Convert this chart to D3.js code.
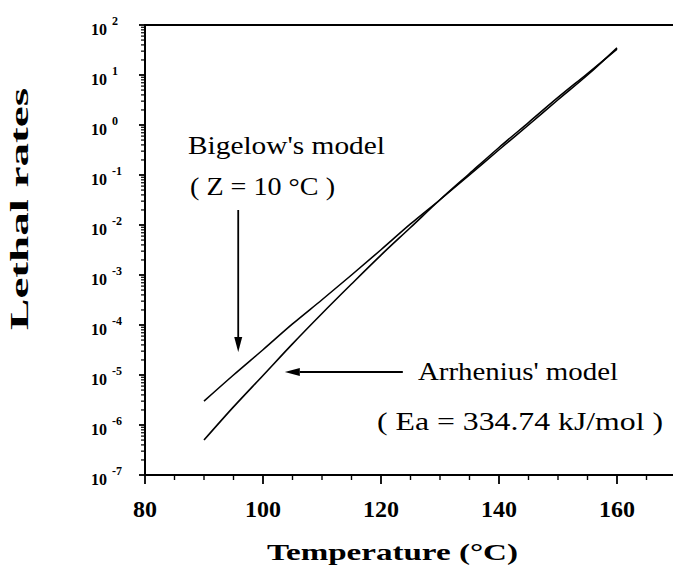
<!DOCTYPE html>
<html>
<head>
<meta charset="utf-8">
<script src="https://cdn.jsdelivr.net/npm/d3@7"></script>
<style>
  body { margin: 0; background: #fff; }
  svg { display: block; }
</style>
</head>
<body>
<div id="chart"></div>
<script>
// temperatures (°C) at which both curves were read
var temps = [90, 95, 100, 105, 110, 115, 120, 125, 130, 135, 140, 145, 150, 155, 160];

// lethal rates
var bigelow   = [3.0e-6, 1.0e-5, 3.2e-5, 1.05e-4, 3.2e-4, 1.0e-3, 3.2e-3, 1.05e-2, 3.2e-2, 0.10, 0.32, 1.0, 3.2, 10, 35];
var arrhenius = [5.0e-7, 2.3e-6, 9.8e-6, 4.2e-5, 1.7e-4, 6.6e-4, 2.5e-3, 8.9e-3, 3.2e-2, 0.107, 0.355, 1.12, 3.55, 10.7, 33];

var xMajorTicks = [80, 100, 120, 140, 160];
var yExponents  = [2, 1, 0, -1, -2, -3, -4, -5, -6, -7];

var width = 673, height = 571;
var x0 = 145, x1 = 676, yTop = 25, yBot = 475;
var serif = "'Liberation Serif', 'Times New Roman', Times, serif";

var svg = d3.select("#chart").append("svg")
	.attr("width", width)
	.attr("height", height)
	.attr("font-family", serif);

var x = d3.scaleLinear().domain([80, 170]).range([x0, x1]);
var y = d3.scaleLog().domain([1e-7, 1e2]).range([yBot, yTop]);

// frame: left axis, bottom axis, top line (open on the right)
svg.append("line").attr("x1", x0).attr("x2", width).attr("y1", yTop).attr("y2", yTop)
	.attr("stroke", "#000").attr("stroke-width", 2);
svg.append("line").attr("x1", x0).attr("x2", width).attr("y1", yBot).attr("y2", yBot)
	.attr("stroke", "#000").attr("stroke-width", 2);
svg.append("line").attr("x1", x0).attr("x2", x0).attr("y1", yTop - 1).attr("y2", yBot + 1)
	.attr("stroke", "#000").attr("stroke-width", 2);

// x ticks: major every 20, minor every 5
var xMinor = d3.range(85, 171, 5).filter(function(t){ return xMajorTicks.indexOf(t) < 0; });
svg.selectAll(".xmaj").data(xMajorTicks).enter().append("line")
	.attr("x1", function(d){ return x(d); }).attr("x2", function(d){ return x(d); })
	.attr("y1", yBot).attr("y2", yBot + 9)
	.attr("stroke", "#000").attr("stroke-width", 1.8);
svg.selectAll(".xmin").data(xMinor).enter().append("line")
	.attr("x1", function(d){ return x(d); }).attr("x2", function(d){ return x(d); })
	.attr("y1", yBot).attr("y2", yBot + 5)
	.attr("stroke", "#000").attr("stroke-width", 1.4);

svg.selectAll(".xlab").data(xMajorTicks).enter().append("text")
	.attr("x", function(d){ return x(d); })
	.attr("y", 517)
	.attr("text-anchor", "middle")
	.attr("font-family", serif)
	.attr("font-size", 24).attr("font-weight", "bold")
	.text(function(d){ return d; });

// y ticks: decades + log minor ticks
var yMinor = [];
yExponents.forEach(function(e){
	if (e < 2) {
		for (var k = 2; k <= 9; k++) yMinor.push(k * Math.pow(10, e));
	}
});
svg.selectAll(".ymaj").data(yExponents).enter().append("line")
	.attr("x1", x0 - 6).attr("x2", x0)
	.attr("y1", function(d){ return y(Math.pow(10, d)); })
	.attr("y2", function(d){ return y(Math.pow(10, d)); })
	.attr("stroke", "#000").attr("stroke-width", 1.8);
svg.selectAll(".ymin").data(yMinor).enter().append("line")
	.attr("x1", x0 - 4).attr("x2", x0)
	.attr("y1", function(d){ return y(d); })
	.attr("y2", function(d){ return y(d); })
	.attr("stroke", "#000").attr("stroke-width", 1.2);

var ylab = svg.selectAll(".ylab").data(yExponents).enter().append("text")
	.attr("x", 91)
	.attr("y", function(d){ return y(Math.pow(10, d)) + 10; })
	.attr("font-family", serif)
	.attr("font-size", 16).attr("font-weight", "bold");
ylab.append("tspan").text("10");
ylab.append("tspan")
	.attr("dx", 5).attr("dy", -10)
	.attr("font-size", 12)
	.text(function(d){ return d; });

// curves
var line = d3.line()
	.x(function(d){ return x(d[0]); })
	.y(function(d){ return y(d[1]); })
	.curve(d3.curveMonotoneX);

[bigelow, arrhenius].forEach(function(series){
	svg.append("path")
		.datum(temps.map(function(t, i){ return [t, series[i]]; }))
		.attr("d", line)
		.attr("fill", "none")
		.attr("stroke", "#000")
		.attr("stroke-width", 1.6);
});

// arrows
function arrow(xa, ya, xb, yb) {
	var ang = Math.atan2(yb - ya, xb - xa);
	var len = 15, hw = 4;
	var bx = xb - len * Math.cos(ang), by = yb - len * Math.sin(ang);
	svg.append("line").attr("x1", xa).attr("y1", ya).attr("x2", bx).attr("y2", by)
		.attr("stroke", "#000").attr("stroke-width", 1.8);
	svg.append("path")
		.attr("d", "M" + xb + "," + yb +
			"L" + (bx - hw * Math.sin(ang)) + "," + (by + hw * Math.cos(ang)) +
			"L" + (bx + hw * Math.sin(ang)) + "," + (by - hw * Math.cos(ang)) + "Z")
		.attr("fill", "#000");
}
arrow(x(95.8), y(Math.pow(10, -1.7)), x(95.8), y(Math.pow(10, -4.54)));
arrow(x(123.7), y(Math.pow(10, -4.94)), x(103.7), y(Math.pow(10, -4.94)));

// annotations
function note(txt, tx, ty, len) {
	svg.append("text")
		.attr("x", tx).attr("y", ty)
		.attr("textLength", len).attr("lengthAdjust", "spacingAndGlyphs")
		.attr("font-family", serif)
		.attr("font-size", 25)
		.text(txt);
}
note("Bigelow's  model", 188, 154, 197);
note("( Z = 10 °C )", 190, 195, 145);
note("Arrhenius'  model", 418, 380, 200);
note("( Ea = 334.74 kJ/mol )", 377, 430, 286);

// axis titles
svg.append("text")
	.attr("x", 267).attr("y", 560)
	.attr("textLength", 251).attr("lengthAdjust", "spacingAndGlyphs")
	.attr("font-family", serif)
	.attr("font-size", 23).attr("font-weight", "bold")
	.text("Temperature (°C)");

svg.append("text")
	.attr("transform", "translate(28,330) rotate(-90)")
	.attr("x", 0).attr("y", 0)
	.attr("textLength", 242).attr("lengthAdjust", "spacingAndGlyphs")
	.attr("font-family", serif)
	.attr("font-size", 26).attr("font-weight", "bold")
	.text("Lethal  rates");
</script>
</body>
</html>
